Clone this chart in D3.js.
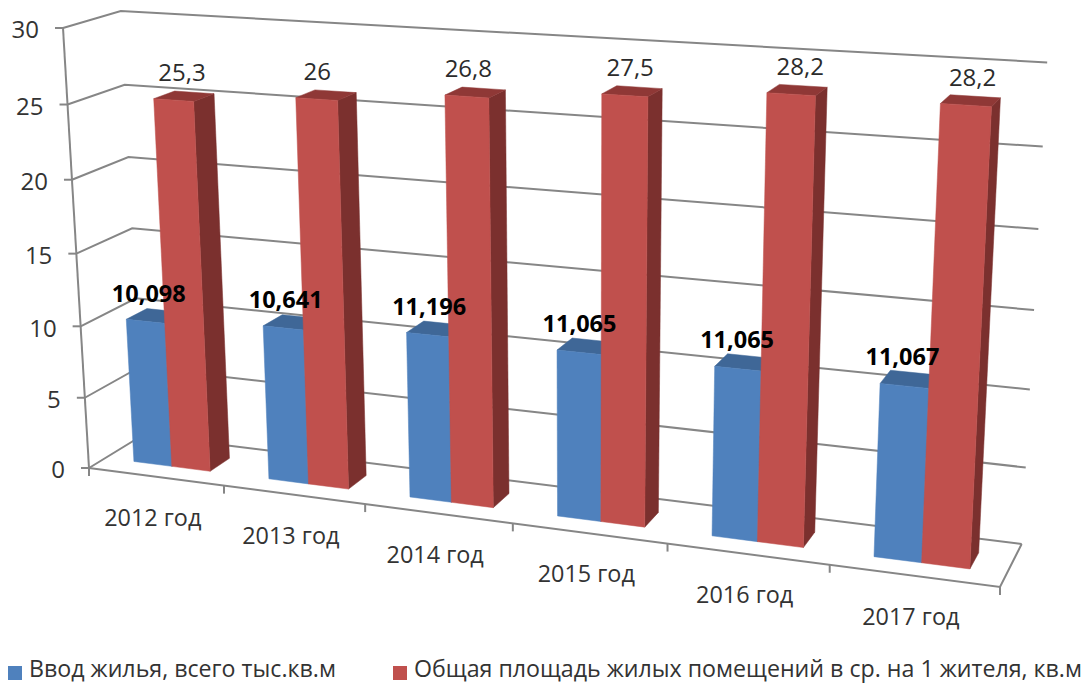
<!DOCTYPE html>
<html>
<head>
<meta charset="utf-8">
<script src="https://cdn.jsdelivr.net/npm/d3@7"></script>
<style>
    html, body { margin: 0; background: #fff; }
    text { font-family: "Open Sans", sans-serif; }
</style>
</head>
<body>
<div id="root"></div>
<script>
var years = ["2012 год", "2013 год", "2014 год", "2015 год", "2016 год", "2017 год"];
var housing = [10.098, 10.641, 11.196, 11.065, 11.065, 11.067];
var area = [25.3, 26, 26.8, 27.5, 28.2, 28.2];
var housingLabels = ["10,098", "10,641", "11,196", "11,065", "11,065", "11,067"];
var areaLabels = ["25,3", "26", "26,8", "27,5", "28,2", "28,2"];
var yTicks = [0, 5, 10, 15, 20, 25, 30];
var seriesNames = ["Ввод жилья, всего тыс.кв.м", "Общая площадь жилых помещений в ср. на 1 жителя, кв.м"];

window.onload = function () {
    var width = 1084, height = 684;

    // perspective box: origin and the far end of each edge, with its w
    var origin = [89, 468], xEnd = [1000, 587], yEnd = [63, 28], zEnd = [143, 435];
    var wx = 0.87, wy = 0.95, wz = 1.04;

    function axisVec(p, w) {
        return [w * p[0] - origin[0], w * p[1] - origin[1], w - 1];
    }
    var vx = axisVec(xEnd, wx), vy = axisVec(yEnd, wy), vz = axisVec(zEnd, wz);

    function project(u, v, z) {
        var px = origin[0] + u * vx[0] + v * vy[0] + z * vz[0];
        var py = origin[1] + u * vx[1] + v * vy[1] + z * vz[1];
        var pw = 1 + u * vx[2] + v * vy[2] + z * vz[2];
        return [px / pw, py / pw];
    }

    var y = d3.scaleLinear().domain([0, 30]).range([0, 1]);
    var x = d3.scaleBand().domain(years).range([0, 1]).paddingInner(0.43).paddingOuter(0.215);
    var cat = d3.scaleBand().domain(years).range([0, 1]);
    var sub = d3.scaleBand().domain([0, 1]).range([0, x.bandwidth()]);
    var zFront = 0.30, zBack = 0.68;

    // hand placed nudges, the labels do not sit evenly over the bars
    var areaLabelDx = [-2, -9, -7, -2, 3, 2];

    var svg = d3.select("#root").append("svg")
        .attr("width", width)
        .attr("height", height)
        .style("display", "block");

    var line = d3.line();

    var grid = svg.append("g")
        .attr("fill", "none")
        .attr("stroke", "#868686")
        .attr("stroke-width", 2);

    // walls
    grid.selectAll("path.wall")
        .data(yTicks)
        .enter()
        .append("path")
        .attr("class", "wall")
        .attr("d", function (d) {
            var v = y(d);
            return line([project(0, v, 0), project(0, v, 1), project(1, v, 1)]);
        });

    // y axis with ticks
    grid.append("path").attr("d", line([project(0, 0, 0), project(0, 1, 0)]));
    grid.selectAll("path.ytick")
        .data(yTicks)
        .enter()
        .append("path")
        .attr("class", "ytick")
        .attr("d", function (d) {
            var p = project(0, y(d), 0);
            return line([[p[0] - 8, p[1]], p]);
        });

    // floor front and right edges, category ticks
    grid.append("path").attr("d", line([project(0, 0, 0), project(1, 0, 0), project(1, 0, 1)]));
    grid.selectAll("path.xtick")
        .data(d3.range(years.length + 1))
        .enter()
        .append("path")
        .attr("class", "xtick")
        .attr("d", function (i) {
            var p = project(i / years.length, 0, 0);
            return line([p, [p[0], p[1] + 8]]);
        });

    var colors = [
        { front: "#4f81bd", side: "#3c6494", top: "#3f6797" },
        { front: "#c0504d", side: "#7b302e", top: "#8f3836" }
    ];

    function drawBar(g, year, s, value) {
        var u0 = x(year) + sub(s), u1 = u0 + sub.bandwidth(), v = y(value);
        var c = colors[s];
        function face(pts, fill) {
            g.append("path")
                .attr("d", line(pts) + "Z")
                .attr("fill", fill)
                .attr("stroke", fill)
                .attr("stroke-width", 0.5);
        }
        face([project(u1, 0, zFront), project(u1, 0, zBack), project(u1, v, zBack), project(u1, v, zFront)], c.side);
        face([project(u0, v, zFront), project(u1, v, zFront), project(u1, v, zBack), project(u0, v, zBack)], c.top);
        face([project(u0, 0, zFront), project(u1, 0, zFront), project(u1, v, zFront), project(u0, v, zFront)], c.front);
    }

    var bars = svg.append("g");
    years.forEach(function (year, i) {
        drawBar(bars, year, 0, housing[i]);
        drawBar(bars, year, 1, area[i]);
    });

    // value labels
    svg.selectAll("text.area")
        .data(years)
        .enter()
        .append("text")
        .attr("class", "area")
        .attr("text-anchor", "middle")
        .attr("font-size", 24)
        .attr("fill", "#2b2b2b")
        .attr("transform", function (d, i) {
            var p = project(x(d) + sub(1) + sub.bandwidth() / 2, y(area[i]), (zFront + zBack) / 2);
            return "translate(" + (p[0] + areaLabelDx[i]) + "," + (p[1] - 15) + ")";
        })
        .text(function (d, i) { return areaLabels[i]; });

    svg.selectAll("text.housing")
        .data(years)
        .enter()
        .append("text")
        .attr("class", "housing")
        .attr("text-anchor", "middle")
        .attr("font-size", 23.5)
        .attr("font-weight", "bold")
        .attr("fill", "#000")
        .attr("transform", function (d, i) {
            var p = project(x(d) + sub(0) + sub.bandwidth() / 2, y(housing[i]), (zFront + zBack) / 2);
            return "translate(" + (p[0] - 7) + "," + (p[1] - 14) + ")";
        })
        .text(function (d, i) { return housingLabels[i]; });

    // y labels
    svg.selectAll("text.ylab")
        .data(yTicks)
        .enter()
        .append("text")
        .attr("class", "ylab")
        .attr("text-anchor", "end")
        .attr("font-size", 24)
        .attr("fill", "#333")
        .attr("dy", ".35em")
        .attr("transform", function (d) {
            var p = project(0, y(d), 0);
            return "translate(" + (p[0] - 24) + "," + (p[1] + 2) + ")";
        })
        .text(function (d) { return d; });

    // category labels
    svg.selectAll("text.xlab")
        .data(years)
        .enter()
        .append("text")
        .attr("class", "xlab")
        .attr("text-anchor", "middle")
        .attr("font-size", 23.4)
        .attr("fill", "#333")
        .attr("transform", function (d) {
            var p = project(cat(d) + cat.bandwidth() / 2, 0, 0);
            return "translate(" + (p[0] - 3) + "," + (p[1] + 49) + ")";
        })
        .text(function (d) { return d; });

    // legend
    var legendX = [8, 393], legendTextX = [21, 21];
    var legend = svg.selectAll("g.legend")
        .data(seriesNames)
        .enter()
        .append("g")
        .attr("class", "legend")
        .attr("transform", function (d, i) { return "translate(" + legendX[i] + ",666)"; });
    legend.append("rect")
        .attr("width", 14)
        .attr("height", 14)
        .attr("fill", function (d, i) { return colors[i].front; });
    legend.append("text")
        .attr("x", function (d, i) { return legendTextX[i]; })
        .attr("y", 11)
        .attr("font-size", 23.2)
        .attr("fill", "#333")
        .text(function (d) { return d; });
};
</script>
</body>
</html>
